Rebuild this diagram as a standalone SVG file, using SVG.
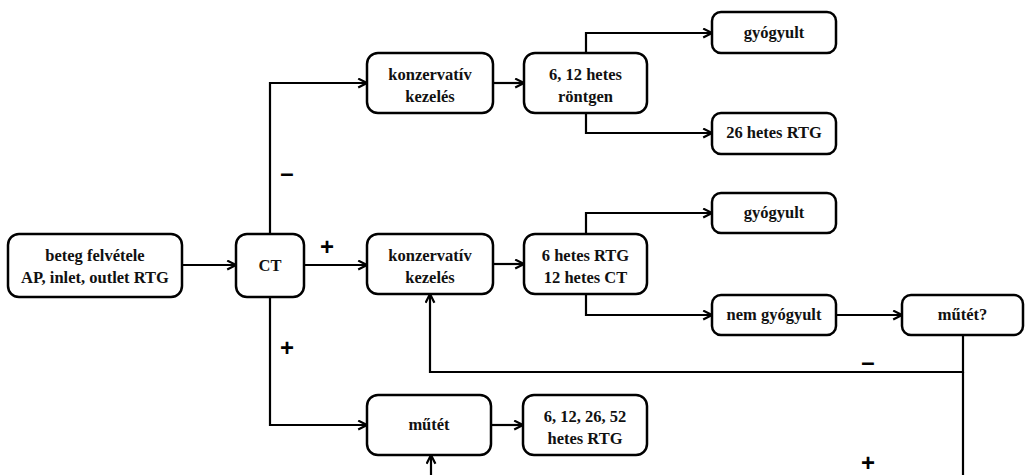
<svg xmlns="http://www.w3.org/2000/svg" width="1026" height="475" viewBox="0 0 1026 475">
<style>
.box{fill:#fff;stroke:#000;stroke-width:2.5}
.t{font-family:"Liberation Serif","Times New Roman",serif;font-weight:bold;font-size:16.5px;text-anchor:middle;fill:#111}
.c{fill:none;stroke:#000;stroke-width:2.2}
.s{font-family:"Liberation Sans",Arial,sans-serif;font-weight:bold;font-size:24px;text-anchor:middle;fill:#000}
</style>
<defs>
<marker id="a" viewBox="0 0 10 10" refX="9" refY="5" markerWidth="11" markerHeight="11" markerUnits="userSpaceOnUse" orient="auto">
<path d="M1,1 L9,5 L1,9" fill="none" stroke="#000" stroke-width="2"/>
</marker>
</defs>
<rect width="1026" height="475" fill="#fff"/>
<g id="connectors">
<path class="c" d="M182,265 H236" marker-end="url(#a)"/>
<path class="c" d="M270,234 V83 H367" marker-end="url(#a)"/>
<path class="c" d="M304,265 H367" marker-end="url(#a)"/>
<path class="c" d="M270,297 V425 H367" marker-end="url(#a)"/>
<path class="c" d="M493,83 H524" marker-end="url(#a)"/>
<path class="c" d="M586,53 V33 H712" marker-end="url(#a)"/>
<path class="c" d="M586,113 V133 H712" marker-end="url(#a)"/>
<path class="c" d="M493,264 H524" marker-end="url(#a)"/>
<path class="c" d="M586,234 V213 H712" marker-end="url(#a)"/>
<path class="c" d="M586,294 V315 H712" marker-end="url(#a)"/>
<path class="c" d="M491,425 H523" marker-end="url(#a)"/>
<path class="c" d="M836,315 H902" marker-end="url(#a)"/>
<path class="c" d="M963,335 V372 H430 V294" marker-end="url(#a)"/>
<path class="c" d="M963,372 V482 H431 V455" marker-end="url(#a)"/>
<text class="s" x="287" y="181">–</text>
<text class="s" x="327" y="255">+</text>
<text class="s" x="287" y="356">+</text>
<text class="s" x="868" y="370">–</text>
<text class="s" x="868" y="471">+</text>
</g>
<g id="n1"><rect class="box" x="8" y="234" width="174" height="63" rx="11"/><text class="t" x="95" y="261">beteg felvétele</text><text class="t" x="95" y="283">AP, inlet, outlet RTG</text></g>
<g id="ct"><rect class="box" x="236" y="234" width="68" height="63" rx="11"/><text class="t" x="270" y="271">CT</text></g>
<g id="k1"><rect class="box" x="367" y="53" width="126" height="60" rx="11"/><text class="t" x="430" y="80">konzervatív</text><text class="t" x="430" y="102">kezelés</text></g>
<g id="r1"><rect class="box" x="524" y="53" width="123" height="60" rx="11"/><text class="t" x="585.5" y="80">6, 12 hetes</text><text class="t" x="585.5" y="102">röntgen</text></g>
<g id="g1"><rect class="box" x="712" y="12" width="124" height="41" rx="9"/><text class="t" x="774" y="38">gyógyult</text></g>
<g id="r26"><rect class="box" x="712" y="113" width="124" height="41" rx="9"/><text class="t" x="774" y="138">26 hetes RTG</text></g>
<g id="k2"><rect class="box" x="367" y="234" width="126" height="60" rx="11"/><text class="t" x="430" y="261">konzervatív</text><text class="t" x="430" y="283">kezelés</text></g>
<g id="r2"><rect class="box" x="524" y="234" width="123" height="60" rx="11"/><text class="t" x="585.5" y="261">6 hetes RTG</text><text class="t" x="585.5" y="283">12 hetes CT</text></g>
<g id="g2"><rect class="box" x="712" y="193" width="124" height="40" rx="9"/><text class="t" x="774" y="218">gyógyult</text></g>
<g id="ng"><rect class="box" x="712" y="295" width="124" height="40" rx="9"/><text class="t" x="774" y="320">nem gyógyult</text></g>
<g id="mq"><rect class="box" x="902" y="295" width="121" height="40" rx="9"/><text class="t" x="962.5" y="320">műtét?</text></g>
<g id="m"><rect class="box" x="367" y="395" width="124" height="60" rx="11"/><text class="t" x="429" y="430">műtét</text></g>
<g id="r3"><rect class="box" x="523" y="395" width="124" height="60" rx="11"/><text class="t" x="585" y="422">6, 12, 26, 52</text><text class="t" x="585" y="444">hetes RTG</text></g>
</svg>
